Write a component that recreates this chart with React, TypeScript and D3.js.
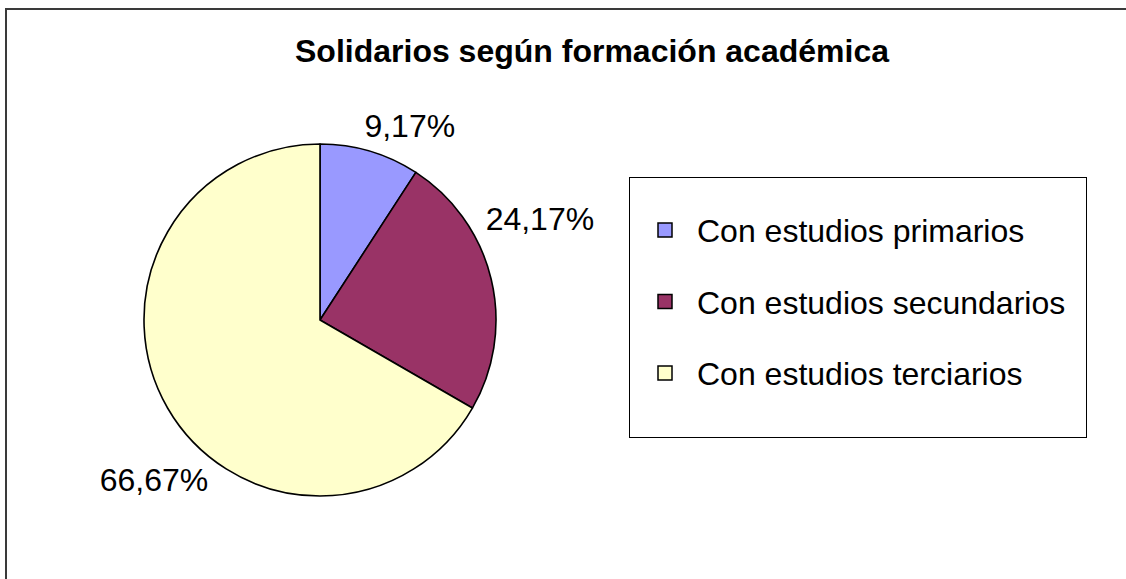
import React from 'react';
import * as d3 from 'd3';

// slice data
const categories = ['Con estudios primarios', 'Con estudios secundarios', 'Con estudios terciarios'];
const percents = [9.17, 24.17, 66.67];
const colors = ['#9999FF', '#993366', '#FFFFCC'];
const title = 'Solidarios según formación académica';

// layout tweaks for the data labels (Excel puts them a bit off the bisector)
const labelNudge: [number, number][] = [[30, 7], [-15, -46], [41, 40]];

const W = 1126;
const H = 579;
const FONT = '"Liberation Sans", Arial, sans-serif';

export default function App() {
    const cx = 320;
    const cy = 320;
    const radius = 176;

    const pie = d3.pie<number>().sort(null).value(d => d);
    const arcs = pie(percents);
    const arc = d3.arc<d3.PieArcDatum<number>>().innerRadius(0).outerRadius(radius);

    const fmt = (v: number) => d3.format('.2f')(v).replace('.', ',') + '%';

    // rough text box size used to push labels outside the pie
    const labelFont = 32;
    const capH = 24;
    const textW = (s: string) => s.length * labelFont * 0.556 - (s.includes(',') ? labelFont * 0.278 : 0) + labelFont * 0.333;

    const labels = arcs.map((a, i) => {
        const mid = (a.startAngle + a.endAngle) / 2;
        const ux = Math.sin(mid);
        const uy = -Math.cos(mid);
        const txt = fmt(a.data);
        const w = textW(txt);
        const half = Math.abs(ux) * w / 2 + Math.abs(uy) * capH / 2;
        const dist = radius + 10 + half;
        return {
            txt,
            x: ux * dist + labelNudge[i][0],
            y: uy * dist + labelNudge[i][1] + capH / 2,
        };
    });

    const legendX = 629;
    const legendY = 177;
    const legendW = 457;
    const legendH = 260;
    const rowY = d3.scalePoint<string>().domain(categories).range([legendY + 53, legendY + 196]);

    return (
        <svg width={W} height={H} style={{ position: 'absolute', left: 0, top: 0, background: '#fff' }}>
            <rect x={6} y={9} width={W + 50} height={H + 50} fill="#fff" stroke="#3a3a3a" strokeWidth={2} />
            <text x={592} y={62} textAnchor="middle" fontFamily={FONT} fontWeight="bold" fontSize={32} fill="#000">
                {title}
            </text>
            <g transform={`translate(${cx},${cy})`}>
                {arcs.map((a, i) => (
                    <path key={i} d={arc(a) || ''} fill={colors[i]} stroke="#000" strokeWidth={1.6} strokeLinejoin="round" />
                ))}
                {labels.map((l, i) => (
                    <text key={i} x={l.x} y={l.y} textAnchor="middle" fontFamily={FONT} fontSize={labelFont} fill="#000">
                        {l.txt}
                    </text>
                ))}
            </g>
            <rect x={legendX + 0.5} y={legendY + 0.5} width={legendW} height={legendH} fill="#fff" stroke="#000" strokeWidth={1} />
            {categories.map((c, i) => {
                const y = rowY(c) || 0;
                return (
                    <g key={c}>
                        <rect x={658} y={y - 7} width={14} height={14} fill={colors[i]} stroke="#000" strokeWidth={1.5} />
                        <text x={697} y={y + 12} fontFamily={FONT} fontSize={32} fill="#000">
                            {c}
                        </text>
                    </g>
                );
            })}
        </svg>
    );
}
